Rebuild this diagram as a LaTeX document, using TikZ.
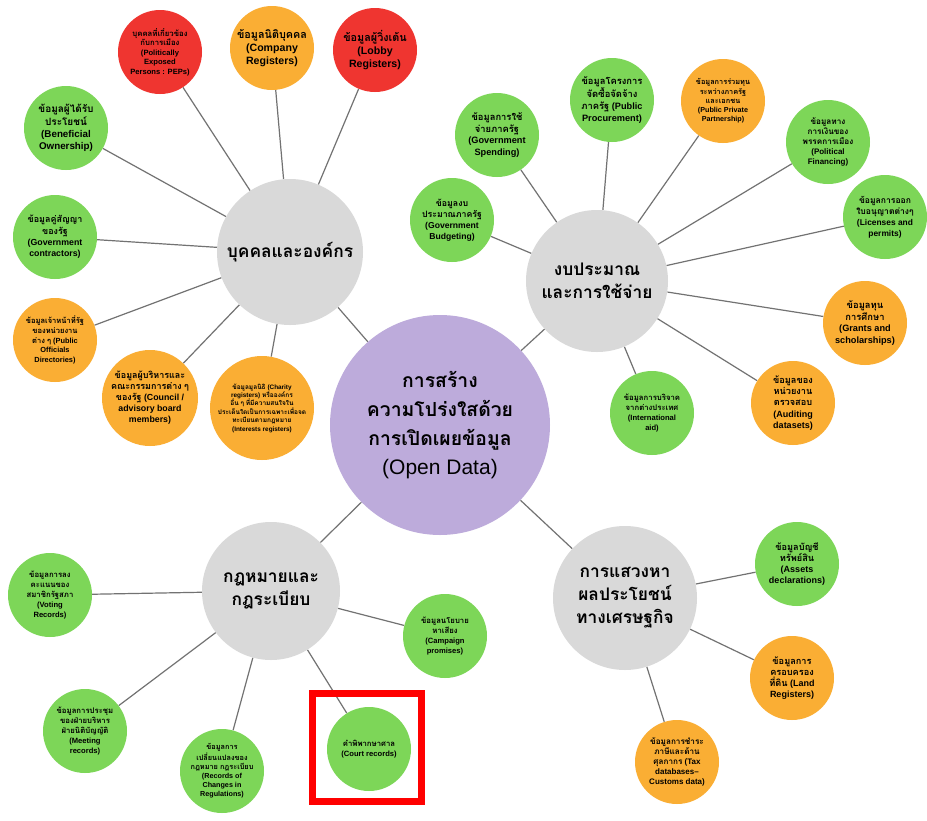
\documentclass[tikz,border=0pt]{standalone}
\usepackage{fontspec}
\setmainfont{Liberation Sans}
\newfontfamily\latinf{Liberation Sans}
\newfontfamily\thai[Script=Thai,Scale=1.02]{Loma}
\XeTeXinterchartokenstate=1
\newXeTeXintercharclass\thaiclass
\count255="0E00
\loop \XeTeXcharclass\count255=\thaiclass \advance\count255 by 1 \ifnum\count255<"0E80 \repeat
\XeTeXinterchartoks 0 \thaiclass = {\thai}
\XeTeXinterchartoks 4095 \thaiclass = {\thai}
\XeTeXinterchartoks \thaiclass 0 = {\latinf}
\XeTeXinterchartoks \thaiclass 4095 = {\latinf}
\usetikzlibrary{backgrounds}
\definecolor{cgreen}{HTML}{7DD658}
\definecolor{corange}{HTML}{FAAE34}
\definecolor{cred}{HTML}{EF3530}
\definecolor{cgray}{HTML}{D9D9D9}
\definecolor{cpurple}{HTML}{BDABDB}
\definecolor{cline}{HTML}{727272}
\begin{document}
\begin{tikzpicture}[x=1pt,y=-1pt,
  leaf/.style={circle, inner sep=0pt, minimum size=84pt, align=center, text=black},
  gleaf/.style={leaf, fill=cgreen},
  oleaf/.style={leaf, fill=corange},
  rleaf/.style={leaf, fill=cred},
  sz/.style n args={2}{font=\latinf\bfseries\fontsize{#1}{#2}\selectfont},
  hub/.style={circle, inner sep=0pt, fill=cgray, align=center, text=black, sz={17}{23}},
  link/.style={draw=cline, line width=1.2pt},
  highlight/.style={draw=red, line width=7pt}
]
\useasboundingbox (0,0) rectangle (927,820);

% centre
\node[circle, inner sep=0pt, minimum size=220pt, fill=cpurple, align=center, sz={19}{29}] (core) at (440,425)
  {การสร้าง\\ความโปร่งใสด้วย\\การเปิดเผยข้อมูล\\{\mdseries\fontsize{21}{29}\selectfont (Open Data)}};

% hubs
\node[hub, minimum size=146pt] (people) at (290,252) {บุคคลและองค์กร};
\node[hub, minimum size=142pt] (budget) at (597,281) {งบประมาณ\\และการใช้จ่าย};
\node[hub, minimum size=138pt] (law) at (271,591) {กฎหมายและ\\กฎระเบียบ};
\node[hub, minimum size=144pt] (econ) at (625,598) {การแสวงหา\\ผลประโยชน์\\ทางเศรษฐกิจ};

% people leaves
\node[rleaf, sz={7.6}{9.4}] (peps) at (160,52) {บุคคลที่เกี่ยวข้อง\\กับการเมือง\\(Politically\\Exposed\\Persons : PEPs)};
\node[oleaf, sz={10.6}{13.4}] (company) at (272,48) {ข้อมูลนิติบุคคล\\(Company\\Registers)};
\node[rleaf, sz={10.6}{13.4}] (lobby) at (375,50) {ข้อมูลผู้วิ่งเต้น\\(Lobby\\Registers)};
\node[gleaf, sz={9.8}{12.2}] (benef) at (66,128) {ข้อมูลผู้ได้รับ\\ประโยชน์\\(Beneficial\\Ownership)};
\node[gleaf, sz={8.8}{11.4}] (contract) at (55,237) {ข้อมูลคู่สัญญา\\ของรัฐ\\(Government\\contractors)};
\node[oleaf, sz={7.4}{9.6}] (officials) at (55,340) {ข้อมูลเจ้าหน้าที่รัฐ\\ของหน่วยงาน\\ต่าง ๆ (Public\\Officials\\Directories)};
\node[oleaf, minimum size=96pt, sz={8.8}{11}] (council) at (150,398) {ข้อมูลผู้บริหารและ\\คณะกรรมการต่าง ๆ\\ของรัฐ (Council /\\advisory board\\members)};
\node[oleaf, minimum size=104pt, sz={6.4}{8.4}] (charity) at (262,408) {ข้อมูลมูลนิธิ (Charity\\registers) หรือองค์กร\\อื่น ๆ ที่มีความสนใจใน\\ประเด็นใดเป็นการเฉพาะเพื่อจด\\ทะเบียนตามกฎหมาย\\(Interests registers)};

% budget leaves
\node[gleaf, sz={9.2}{11.8}] (spend) at (497,135) {ข้อมูลการใช้\\จ่ายภาครัฐ\\(Government\\Spending)};
\node[gleaf, sz={9.2}{11.8}] (procure) at (612,100) {ข้อมูลโครงการ\\จัดซื้อจัดจ้าง\\ภาครัฐ (Public\\Procurement)};
\node[oleaf, sz={7.2}{9.3}] (ppp) at (723,101) {ข้อมูลการร่วมทุน\\ระหว่างภาครัฐ\\และเอกชน\\(Public Private\\Partnership)};
\node[gleaf, sz={8}{10.2}] (polfin) at (828,142) {ข้อมูลทาง\\การเงินของ\\พรรคการเมือง\\(Political\\Financing)};
\node[gleaf, sz={8.6}{11}] (budgeting) at (452,220) {ข้อมูลงบ\\ประมาณภาครัฐ\\(Government\\Budgeting)};
\node[gleaf, sz={8.4}{11}] (license) at (885,217) {ข้อมูลการออก\\ใบอนุญาตต่างๆ\\(Licenses and\\permits)};
\node[oleaf, sz={9.2}{11.8}] (grants) at (865,323) {ข้อมูลทุน\\การศึกษา\\(Grants and\\scholarships)};
\node[gleaf, sz={7.6}{9.8}] (aid) at (652,413) {ข้อมูลการบริจาค\\จากต่างประเทศ\\(International\\aid)};
\node[oleaf, sz={9}{11.2}] (audit) at (793,403) {ข้อมูลของ\\หน่วยงาน\\ตรวจสอบ\\(Auditing\\datasets)};

% law leaves
\node[gleaf, sz={7.6}{9.8}] (voting) at (50,595) {ข้อมูลการลง\\คะแนนของ\\สมาชิกรัฐสภา\\(Voting\\Records)};
\node[gleaf, sz={7.6}{9.8}] (meeting) at (85,731) {ข้อมูลการประชุม\\ของฝ่ายบริหาร\\ฝ่ายนิติบัญญัติ\\(Meeting\\records)};
\node[gleaf, sz={7.2}{9.2}] (changes) at (222,771) {ข้อมูลการ\\เปลี่ยนแปลงของ\\กฎหมาย กฎระเบียบ\\(Records of\\Changes in\\Regulations)};
\node[gleaf, sz={7.6}{10.2}] (court) at (369,749) {คำพิพากษาศาล\\(Court records)};
\node[gleaf, sz={7.6}{9.8}] (campaign) at (445,636) {ข้อมูลนโยบาย\\หาเสียง\\(Campaign\\promises)};

% econ leaves
\node[gleaf, sz={9}{11.2}] (assets) at (797,564) {ข้อมูลบัญชี\\ทรัพย์สิน\\(Assets\\declarations)};
\node[oleaf, sz={9}{11.2}] (land) at (792,678) {ข้อมูลการ\\ครอบครอง\\ที่ดิน (Land\\Registers)};
\node[oleaf, sz={8}{10}] (tax) at (677,762) {ข้อมูลการชำระ\\ภาษีและด้าน\\ศุลกากร (Tax\\databases–\\Customs data)};

\begin{scope}[on background layer]
\fill[white] (0,0) rectangle (927,820);
\foreach \h in {people,budget,law,econ} \draw[link] (core) -- (\h);
\foreach \l in {peps,company,lobby,benef,contract,officials,council,charity} \draw[link] (people) -- (\l);
\foreach \l in {spend,procure,ppp,polfin,budgeting,license,grants,aid,audit} \draw[link] (budget) -- (\l);
\foreach \l in {voting,meeting,changes,court,campaign} \draw[link] (law) -- (\l);
\foreach \l in {assets,land,tax} \draw[link] (econ) -- (\l);
\end{scope}

\draw[highlight] (312.5,693.5) rectangle (421.5,801.5);
\end{tikzpicture}
\end{document}
